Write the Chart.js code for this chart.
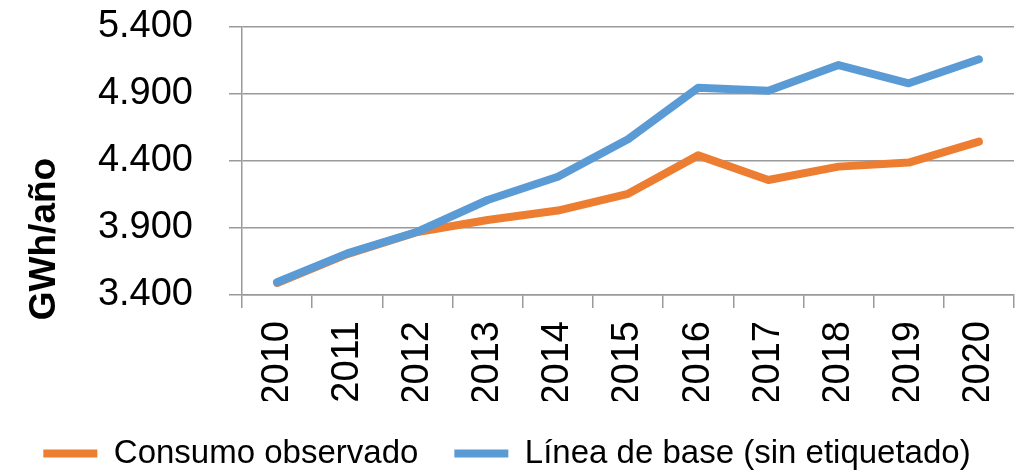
<!DOCTYPE html>
<html>
<head>
<meta charset="utf-8">
<script src="https://cdn.jsdelivr.net/npm/chart.js@4.4.1/dist/chart.umd.min.js"></script>
<style>
  html, body { margin: 0; padding: 0; background: #ffffff; }
  #wrap { width: 1023px; height: 473px; position: relative; }
</style>
</head>
<body>
<div id="wrap"><canvas id="c" width="1023" height="473"></canvas></div>
<script>
const years = ['2010','2011','2012','2013','2014','2015','2016','2017','2018','2019','2020'];
const consumoObservado = [3490, 3705, 3870, 3960, 4030, 4155, 4442, 4258, 4358, 4388, 4544];
const lineaBase = [3495, 3711, 3872, 4109, 4283, 4562, 4947, 4925, 5116, 4980, 5159];
const seriesNames = ['Consumo observado', 'Línea de base (sin etiquetado)'];
const yAxisTitle = 'GWh/año';
const yMin = 3400, yMax = 5400, yStep = 500;

const FONT = "'Liberation Sans', Arial, sans-serif";
const GRID = '#9a9a9a';

function fmtThousands(v) {
  return String(Math.round(v)).replace(/\B(?=(\d{3})+(?!\d))/g, '.');
}

const yTitlePlugin = {
  id: 'yTitlePlugin',
  afterDraw(chart) {
    const ctx = chart.ctx;
    const area = chart.chartArea;
    ctx.save();
    ctx.font = "bold 37px " + FONT;
    ctx.fillStyle = '#000000';
    ctx.textAlign = 'center';
    ctx.textBaseline = 'alphabetic';
    ctx.translate(55, (area.top + area.bottom) / 2 + 78);
    ctx.rotate(-Math.PI / 2);
    ctx.fillText(yAxisTitle, 0, 0);
    ctx.restore();
  }
};

new Chart(document.getElementById('c'), {
  type: 'line',
  data: {
    labels: years,
    datasets: [
      {
        label: seriesNames[1],
        data: lineaBase,
        borderColor: '#5B9BD5',
        backgroundColor: '#5B9BD5',
        borderWidth: 8,
        borderCapStyle: 'round',
        borderJoinStyle: 'round',
        pointRadius: 0,
        pointHoverRadius: 0,
        tension: 0,
        fill: false,
        pointStyle: 'line'
      },
      {
        label: seriesNames[0],
        data: consumoObservado,
        borderColor: '#ED7D31',
        backgroundColor: '#ED7D31',
        borderWidth: 8,
        borderCapStyle: 'round',
        borderJoinStyle: 'round',
        pointRadius: 0,
        pointHoverRadius: 0,
        tension: 0,
        fill: false,
        pointStyle: 'line'
      }
    ]
  },
  options: {
    responsive: false,
    animation: false,
    devicePixelRatio: 1,
    layout: { padding: { left: 0, right: 9, top: 27, bottom: 0 } },
    plugins: {
      tooltip: { enabled: false },
      title: { display: false },
      legend: {
        display: true,
        position: 'bottom',
        reverse: true,
        maxHeight: 72,
        labels: {
          usePointStyle: true,
          pointStyle: 'line',
          pointStyleWidth: 54,
          boxHeight: 9,
          padding: 36,
          color: '#000000',
          font: { family: FONT, size: 33 }
        }
      }
    },
    scales: {
      x: {
        offset: true,
        afterFit(s) { s.height = 106; s.paddingLeft = 0; s.paddingRight = 0; },
        grid: {
          offset: true,
          drawOnChartArea: false,
          drawTicks: true,
          tickLength: 13,
          color: GRID,
          lineWidth: 1.5
        },
        border: { display: true, color: GRID, width: 1.5 },
        ticks: {
          autoSkip: false,
          maxRotation: 90,
          minRotation: 90,
          padding: 13,
          color: '#000000',
          font: { family: FONT, size: 38 }
        }
      },
      y: {
        min: yMin,
        max: yMax,
        afterFit(s) { s.width = 242; s.paddingTop = 20; s.paddingBottom = 20; },
        grid: {
          drawOnChartArea: true,
          drawTicks: true,
          tickLength: 13,
          color: GRID,
          lineWidth: 1.5
        },
        border: { display: true, color: GRID, width: 1.5 },
        ticks: {
          stepSize: yStep,
          padding: 36,
          color: '#000000',
          font: { family: FONT, size: 38 },
          callback: (v) => fmtThousands(v)
        }
      }
    }
  },
  plugins: [yTitlePlugin]
});
</script>
</body>
</html>
